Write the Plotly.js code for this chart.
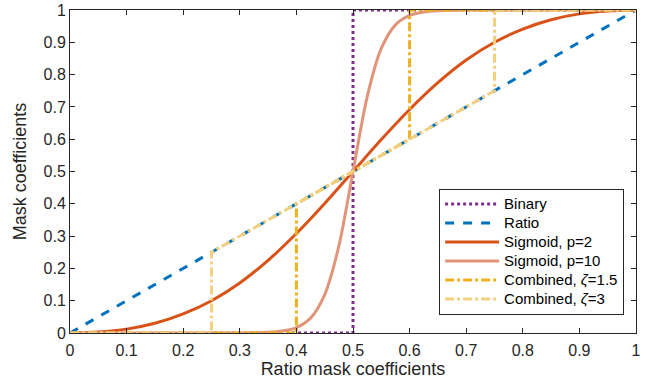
<!DOCTYPE html>
<html><head><meta charset="utf-8">
<script src="https://cdn.plot.ly/plotly-3.0.1.min.js"></script>
<style>body{margin:0;background:#fff}#c{width:660px;height:383px}</style>
</head><body><div id="c"></div>
<script>
const tickVals = [0,0.1,0.2,0.3,0.4,0.5,0.6,0.7,0.8,0.9,1];
const tickText = ["0","0.1","0.2","0.3","0.4","0.5","0.6","0.7","0.8","0.9","1"];
const seriesNames = ["Binary","Ratio","Sigmoid, p=2","Sigmoid, p=10","Combined, <i>ζ</i>=1.5","Combined, <i>ζ</i>=3"];

const binaryX = [0,0.5,0.5,1];
const binaryY = [0,0,1,1];
const ratioX = [0,1];
const ratioY = [0,1];
const sig2X = [0,0.05,0.1,0.15,0.2,0.25,0.3,0.35,0.4,0.45,0.5,0.55,0.6,0.65,0.7,0.75,0.8,0.85,0.9,0.95,1];
const sig2Y = [0,0.003,0.012,0.030,0.059,0.100,0.155,0.225,0.308,0.401,0.5,0.599,0.692,0.775,0.845,0.900,0.941,0.970,0.988,0.997,1];
const sig10X = [0,0.2,0.3,0.35,0.375,0.4,0.425,0.45,0.475,0.5,0.525,0.55,0.575,0.6,0.625,0.65,0.7,0.8,1];
const sig10Y = [0,0,0.0002,0.002,0.006,0.017,0.046,0.119,0.269,0.5,0.731,0.881,0.954,0.983,0.994,0.998,0.9998,1,1];
const comb15X = [0,0.4,0.4,0.6,0.6,1];
const comb15Y = [0,0,0.4,0.6,1,1];
const comb3X = [0,0.25,0.25,0.75,0.75,1];
const comb3Y = [0,0,0.25,0.75,1,1];

const W = 3;
const nm = s => '<span style="font-size:15px">' + s + '</span>';
const traces = [
  {x:binaryX,y:binaryY,name:nm(seriesNames[0]),mode:'lines',line:{color:'#7E2F8E',width:W,dash:'dot'}},
  {x:ratioX,y:ratioY,name:nm(seriesNames[1]),mode:'lines',line:{color:'#0072BD',width:W,dash:'dash'}},
  {x:sig2X,y:sig2Y,name:nm(seriesNames[2]),mode:'lines',line:{color:'#D95319',width:W,shape:'spline'}},
  {x:sig10X,y:sig10Y,name:nm(seriesNames[3]),mode:'lines',line:{color:'#E0957A',width:W,shape:'spline',smoothing:0.8}},
  {x:comb15X,y:comb15Y,name:nm(seriesNames[4]),mode:'lines',line:{color:'#EDB120',width:W,dash:'dashdot'}},
  {x:comb3X,y:comb3Y,name:nm(seriesNames[5]),mode:'lines',line:{color:'#F2D080',width:W,dash:'dashdot'}}
];
const ax = {
  range:[0,1], tickvals:tickVals, ticktext:tickText, ticks:'inside', ticklen:5, tickwidth:1,
  tickcolor:'#262626', showline:true, linecolor:'#262626', linewidth:1, mirror:'ticks',
  showgrid:false, zeroline:false, tickfont:{size:16,color:'#262626'}
};
const layout = {
  width:660, height:383, margin:{l:70,r:24,t:10,b:50},
  paper_bgcolor:'#fff', plot_bgcolor:'#fff',
  font:{family:'Liberation Sans, Arial, sans-serif', color:'#262626'},
  xaxis:Object.assign({}, ax, {ticklabelstandoff:3, title:{text:'Ratio mask coefficients', font:{size:18}, standoff:3}}),
  yaxis:Object.assign({}, ax, {title:{text:'Mask coefficients', font:{size:18}, standoff:12}}),
  showlegend:true,
  legend:{x:0.979, y:0.057, xanchor:'right', yanchor:'bottom', bgcolor:'#fff', itemwidth:54,
    bordercolor:'#262626', borderwidth:1, font:{size:12,color:'#000'}, tracegroupgap:0}
};
Plotly.newPlot('c', traces, layout, {displayModeBar:false, staticPlot:true});
</script></body></html>
